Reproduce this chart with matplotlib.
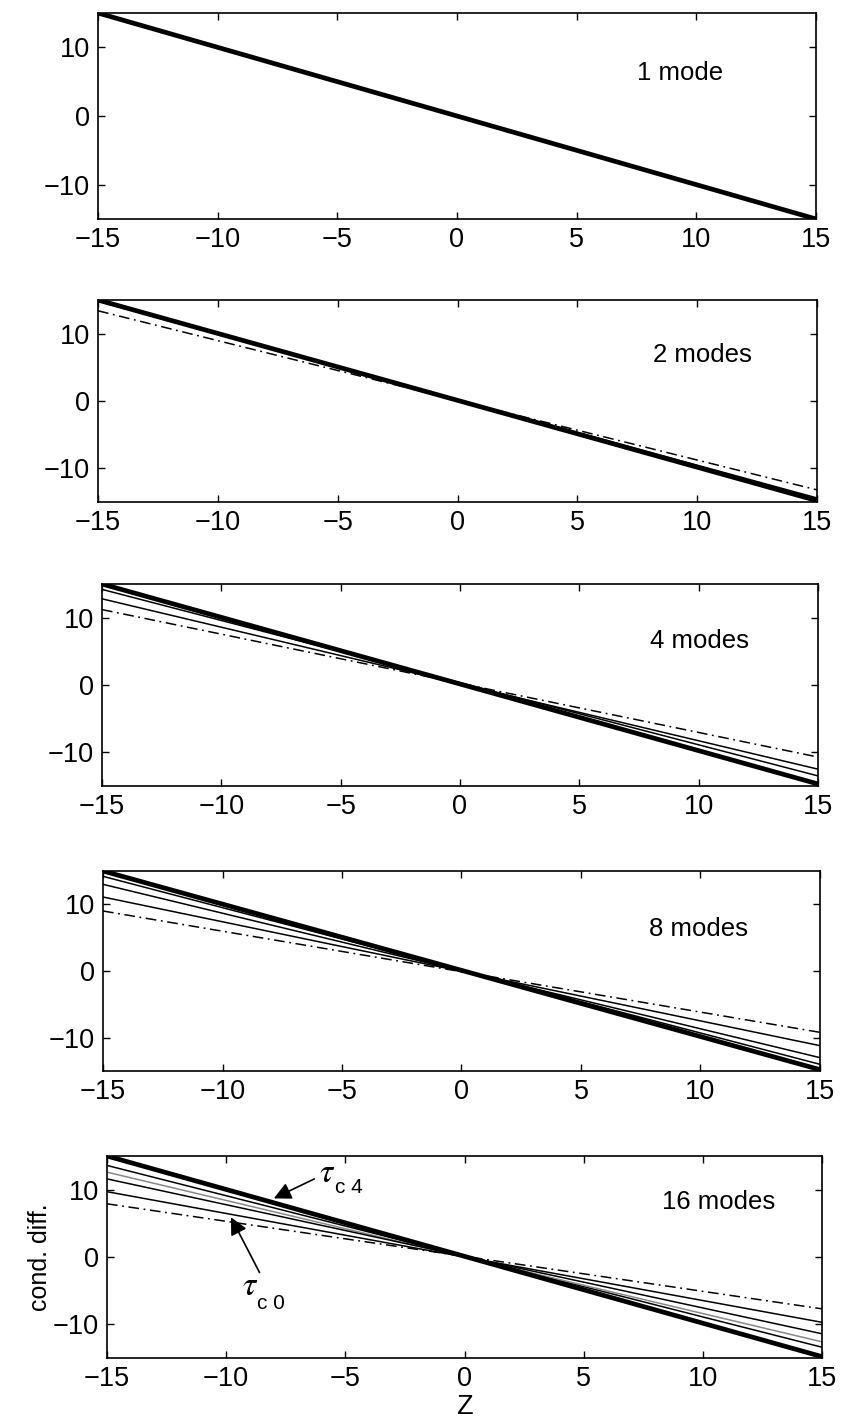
import matplotlib
matplotlib.use("Agg")
import matplotlib.pyplot as plt

plt.rcParams['font.family'] = ['Liberation Sans', 'DejaVu Sans']
plt.rcParams['mathtext.fontset'] = 'stix'

# ---- data ----
z_ends = [-15, 15]
panel_titles = ["1 mode", "2 modes", "4 modes", "8 modes", "16 modes"]
thick_lines = [[15, -15], [15, -14.8], [15, -14.7], [15, -14.8], [15, -14.8]]
thin_lines = [
    [],
    [[14.8, -14.4]],
    [[14.2, -13.5], [12.8, -12.5]],
    [[14.2, -14.0], [13.0, -13.0], [11.1, -11.2]],
    [[13.6, -13.4], [12.6, -12.6], [11.6, -11.4], [9.7, -9.7]],
]
thin_colors = [
    [],
    ["black"],
    ["black", "black"],
    ["black", "black", "black"],
    ["black", "#888888", "black", "black"],
]
dashdot_lines = [None, [13.4, -13.2], [11.2, -10.7], [9.0, -9.2], [7.9, -7.7]]
xticks = [-15, -10, -5, 0, 5, 10, 15]
yticks = [-10, 0, 10]
annot_subscripts = ["c 4", "c 0"]

# ---- layout (pixel boxes: left, right, top, bottom) ----
W, H = 842, 1424
boxes = [(98, 816, 13, 219), (98, 817, 300, 502), (102, 818, 584, 786),
         (103, 820, 871, 1071), (107, 822, 1156, 1358)]
title_pos = [(0.81, 0.71), (0.84, 0.73), (0.835, 0.72), (0.83, 0.71), (0.855, 0.77)]

fig = plt.figure(figsize=(W / 100, H / 100), dpi=100)
axes = []
for i, (l, r, t, b) in enumerate(boxes):
    ax = fig.add_axes([l / W, 1 - b / H, (r - l) / W, (b - t) / H])
    axes.append(ax)
    for vals, col in zip(thin_lines[i], thin_colors[i]):
        ax.plot(z_ends, vals, color=col, lw=1.1, solid_capstyle='butt')
    if dashdot_lines[i] is not None:
        ax.plot(z_ends, dashdot_lines[i], color='black', lw=1.1,
                dashes=(7, 3, 1.2, 3))
    ax.plot(z_ends, thick_lines[i], color='black', lw=3.4, solid_capstyle='butt')
    ax.set_xlim(-15, 15)
    ax.set_ylim(-15, 15)
    ax.set_xticks(xticks)
    ax.set_yticks(yticks)
    ax.tick_params(direction='in', top=True, right=True, length=5, width=1,
                   labelsize=19.5, pad=6)
    for s in ax.spines.values():
        s.set_linewidth(1.2)
    ax.text(title_pos[i][0], title_pos[i][1], panel_titles[i], transform=ax.transAxes,
            ha='center', va='center', fontsize=18.5)

ax5 = axes[-1]
ax5.set_ylabel("cond. diff.", fontsize=18, labelpad=0.5)
ax5.set_xlabel("Z", fontsize=19.5, labelpad=1)
arrow = dict(arrowstyle='-|>', color='black', lw=1.2,
             mutation_scale=26, shrinkA=0, shrinkB=0)
ax5.annotate("", xy=(-8.0, 8.7), xytext=(-6.3, 11.6), arrowprops=arrow)
ax5.text(-6.1, 11.2, r"$\tau$", fontsize=24, ha='left', va='baseline')
ax5.text(-5.45, 9.5, annot_subscripts[0], fontsize=15, ha='left', va='baseline')
ax5.annotate("", xy=(-9.8, 5.9), xytext=(-8.6, -2.3), arrowprops=arrow)
ax5.text(-9.35, -5.6, r"$\tau$", fontsize=24, ha='left', va='baseline')
ax5.text(-8.7, -7.7, annot_subscripts[1], fontsize=15, ha='left', va='baseline')

fig.savefig("out.png", dpi=100)
